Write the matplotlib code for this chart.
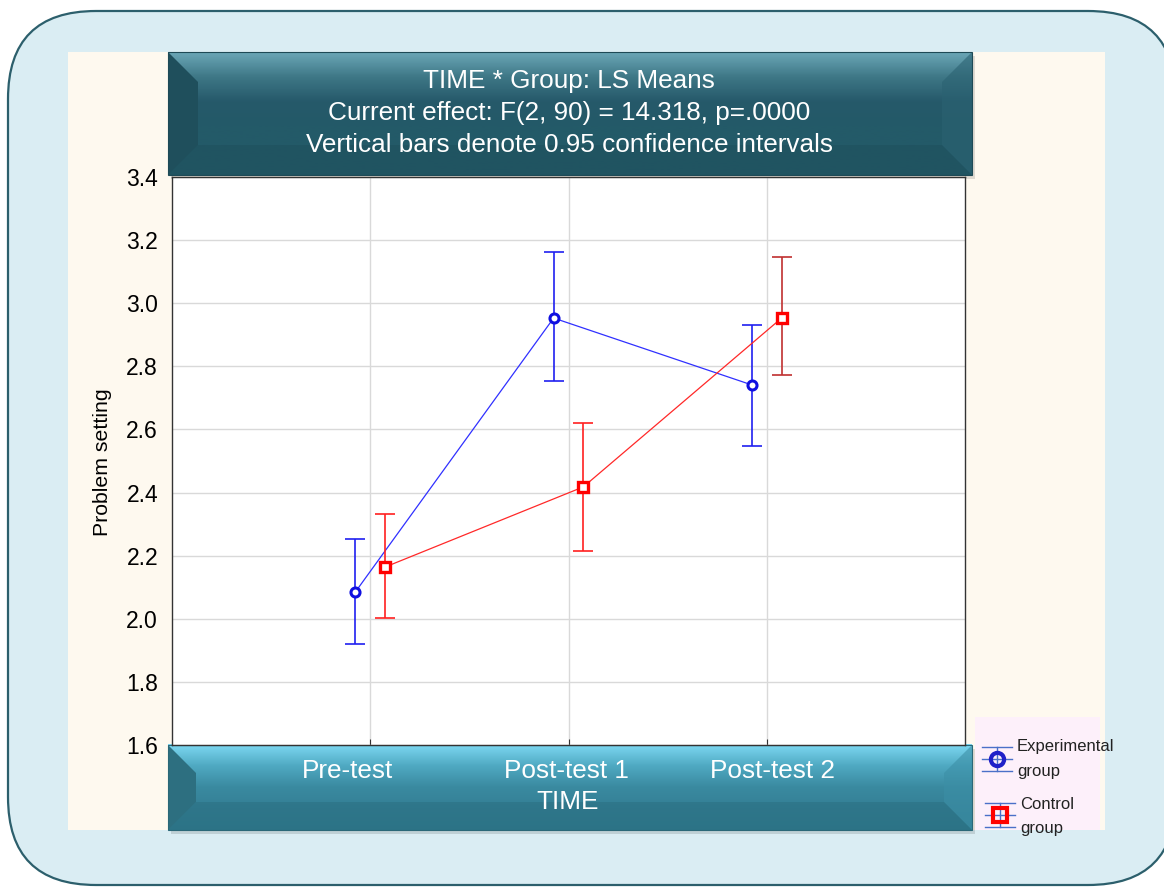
import numpy as np
import matplotlib.pyplot as plt
from matplotlib.patches import FancyBboxPatch, Rectangle, Polygon
from matplotlib.colors import LinearSegmentedColormap

plt.rcParams['font.family'] = ['Liberation Sans', 'DejaVu Sans']

# Data
times = ['Pre-test', 'Post-test 1', 'Post-test 2']
exp_mean = [2.085, 2.953, 2.741]
exp_low = [1.920, 2.754, 2.548]
exp_high = [2.253, 3.162, 2.931]
ctl_mean = [2.164, 2.418, 2.953]
ctl_low = [2.003, 2.215, 2.773]
ctl_high = [2.332, 2.621, 3.147]
yticks = [1.6, 1.8, 2.0, 2.2, 2.4, 2.6, 2.8, 3.0, 3.2, 3.4]
title_lines = ['TIME * Group: LS Means',
               'Current effect: F(2, 90) = 14.318, p=.0000',
               'Vertical bars denote 0.95 confidence intervals']

W, H = 1164, 888
fig = plt.figure(figsize=(W / 100, H / 100), dpi=100)
fig.patch.set_facecolor('white')

# background axes in pixel coordinates
bg = fig.add_axes([0, 0, 1, 1])
bg.set_xlim(0, W)
bg.set_ylim(H, 0)
bg.axis('off')

r = 88
bg.add_patch(FancyBboxPatch((8 + r, 11 + r), 1176 - 8 - 2 * r, 885 - 11 - 2 * r,
                            boxstyle=f'round,pad={r}', fc='#DAEDF3', ec='#2C5F6C', lw=1.6))
bg.add_patch(Rectangle((68, 52), 1037, 778, fc='#FEF9EF', ec='none'))


def bevel(x0, y0, x1, y1, b, cmap, c_left, c_right, c_bot, c_edge):
    # shadow
    bg.add_patch(Rectangle((x0 + 3, y0 + 4), x1 - x0, y1 - y0, fc='#000000', alpha=0.12, ec='none'))
    # center gradient
    grad = np.linspace(0, 1, 100).reshape(-1, 1)
    bg.imshow(grad, cmap=cmap, extent=(x0, x1, y1, y0), aspect='auto', zorder=1)
    bg.add_patch(Polygon([(x0, y0), (x0 + b, y0 + b), (x0 + b, y1 - b), (x0, y1)],
                         fc=c_left, ec='none', zorder=2))
    bg.add_patch(Polygon([(x1, y0), (x1 - b, y0 + b), (x1 - b, y1 - b), (x1, y1)],
                         fc=c_right, ec='none', zorder=2, alpha=0.6))
    bg.add_patch(Polygon([(x0, y1), (x0 + b, y1 - b), (x1 - b, y1 - b), (x1, y1)],
                         fc=c_bot, ec='none', zorder=2, alpha=0.5))
    bg.add_patch(Rectangle((x0, y0), x1 - x0, y1 - y0, fc='none', ec=c_edge, lw=0.8, zorder=3))


top_cm = LinearSegmentedColormap.from_list('t', ['#6AA6B6', '#3E7786', '#26596A', '#235A68', '#235A68', '#235A68'])
bot_cm = LinearSegmentedColormap.from_list('b', ['#7DD8F2', '#4FA9C2', '#3A8AA0', '#347F95', '#2F7A8E'])

bevel(168, 52, 972, 175, 30, top_cm, '#1F4F5C', '#2B6272', '#1E4F5C', '#1E4A56')
bevel(168, 745, 972, 830, 28, bot_cm, '#2D6F80', '#3C8FA6', '#2A6E80', '#2A6878')

for i, line in enumerate(title_lines):
    bg.text(569, 81 + i * 32, line, color='white', fontsize=18.8, ha='center', va='center', zorder=5)

# legend
bg.add_patch(Rectangle((975, 717), 125, 113, fc='#FDF0FA', ec='none'))
leg_c = '#4A70C8'
for cx, cy, mk, mc in [(997, 759, 'o', '#2020C8'), (1000, 815, 's', '#FF0000')]:
    for dy in (-12, 0, 12):
        bg.plot([cx - 15, cx + 15], [cy + dy, cy + dy], color=leg_c, lw=1)
    bg.plot([cx, cx], [cy - 12, cy + 12], color=leg_c, lw=1)
    bg.plot([cx], [cy], marker=mk, ms=9.5 if mk == 'o' else 10, mfc='none', mec=mc, mew=3)
bg.text(1017, 746, 'Experimental', fontsize=12, color='#222222', va='center', ha='left')
bg.text(1017, 771, 'group', fontsize=12, color='#222222', va='center', ha='left')
bg.text(1020, 804, 'Control', fontsize=12, color='#222222', va='center', ha='left')
bg.text(1020, 828, 'group', fontsize=12, color='#222222', va='center', ha='left')

# main plot axes
ax = fig.add_axes([172 / W, 1 - 745 / H, (965 - 172) / W, (745 - 177) / H])
ax.set_facecolor('white')
x = np.arange(len(times))
off = 0.075

ax.plot(x - off, exp_mean, color='#3030FF', lw=0.9, zorder=3)
ax.errorbar(x - off, exp_mean,
            yerr=[np.array(exp_mean) - np.array(exp_low), np.array(exp_high) - np.array(exp_mean)],
            fmt='none', ecolor='#2020F0', elinewidth=1.2, capsize=7.5, capthick=1.2, zorder=3)
ax.plot(x - off, exp_mean, 'o', ms=6.5, mfc='white', mec='#1010E0', mew=2.2, zorder=4)

ax.plot(x + off, ctl_mean, color='#FF2828', lw=0.9, zorder=3)
ax.errorbar(x[:2] + off, ctl_mean[:2],
            yerr=[np.array(ctl_mean[:2]) - np.array(ctl_low[:2]), np.array(ctl_high[:2]) - np.array(ctl_mean[:2])],
            fmt='none', ecolor='#FF2020', elinewidth=1.2, capsize=7.5, capthick=1.2, zorder=3)
ax.errorbar(x[2:] + off, ctl_mean[2:],
            yerr=[np.array(ctl_mean[2:]) - np.array(ctl_low[2:]), np.array(ctl_high[2:]) - np.array(ctl_mean[2:])],
            fmt='none', ecolor='#C03030', elinewidth=1.2, capsize=7.5, capthick=1.2, zorder=3)
ax.plot(x + off, ctl_mean, 's', ms=7, mfc='white', mec='#FF0000', mew=2.4, zorder=4)

ax.set_xlim(-1, 3)
ax.set_ylim(1.6, 3.4)
ax.set_yticks(yticks)
ax.set_yticklabels([f'{v:.1f}' for v in yticks], fontsize=16.5)
ax.set_xticks(x)
ax.set_xticklabels([])
ax.tick_params(axis='x', direction='in', length=4, color='#333333')
ax.tick_params(axis='y', direction='in', length=0, pad=10)
ax.grid(True, color='#D9D9D9', lw=1)
ax.set_axisbelow(True)
for s in ax.spines.values():
    s.set_color('#333333')
    s.set_linewidth(1)

# category labels sit on the bottom banner, slightly off the tick positions
for t, px in zip(times, [348, 566, 772]):
    bg.text(px, 771, t, color='white', fontsize=18.8, ha='center', va='center', zorder=5)
bg.text(568, 802, 'TIME', color='white', fontsize=18.8, ha='center', va='center', zorder=5)
bg.text(102, 462, 'Problem setting', rotation=90, fontsize=15.3, ha='center', va='center')

fig.savefig('out.png', dpi=100)
